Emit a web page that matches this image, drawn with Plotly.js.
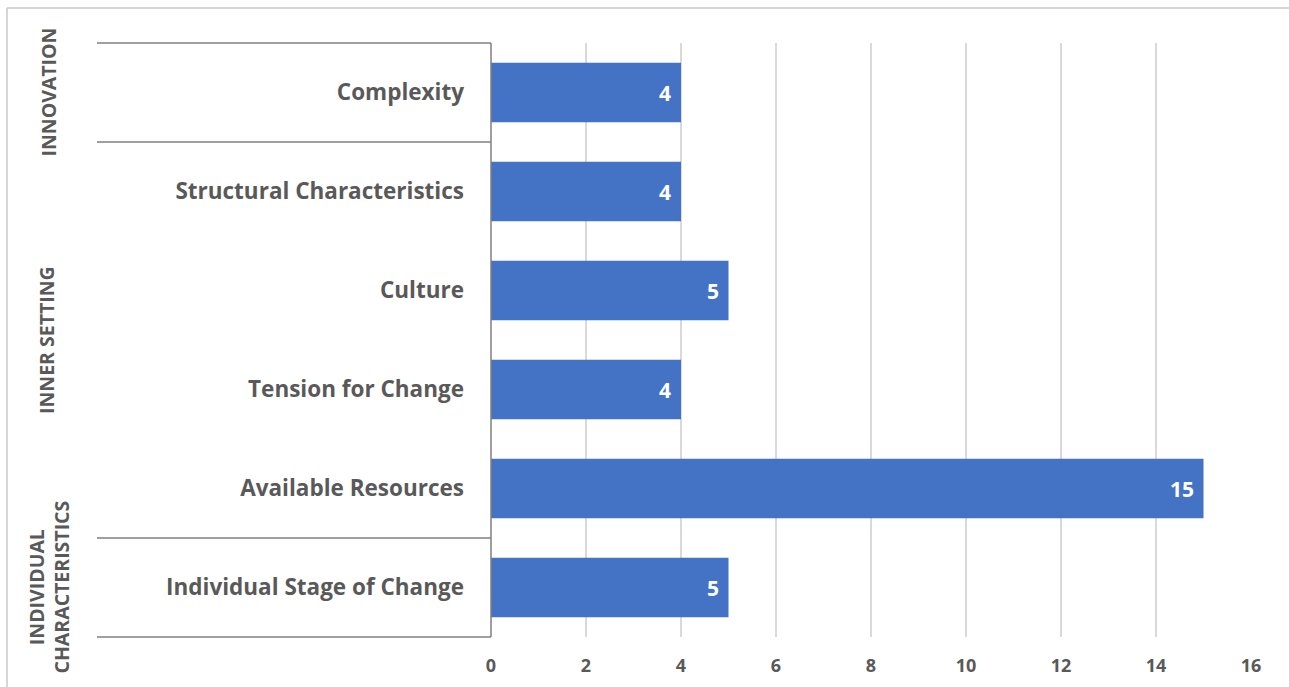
<!DOCTYPE html>
<html>
<head>
<meta charset="utf-8">
<script src="https://cdn.plot.ly/plotly-3.0.1.min.js"></script>
<style>html,body{margin:0;padding:0;background:#fff;}#chart{width:1289px;height:687px;}</style>
</head>
<body>
<div id="chart"></div>
<script>
const categories = ["Complexity", "Structural Characteristics", "Culture", "Tension for Change", "Available Resources", "Individual Stage of Change"];
const values = [4, 4, 5, 4, 15, 5];
const groups = ["INNOVATION", "INNER SETTING", "INDIVIDUAL<br>CHARACTERISTICS"];
const groupSizes = [1, 4, 1];
const xTicks = [0, 2, 4, 6, 8, 10, 12, 14, 16];

const W = 1289, H = 687;
const L = 491, R = 38, T = 43, B = 50;
const plotW = W - L - R, plotH = H - T - B;
const FONT = "Open Sans, sans-serif";
const GRAY = "#595959";
const LINE = "#7f7f7f";

const trace = {
  type: "bar",
  orientation: "h",
  x: values,
  y: categories,
  marker: {color: "#4472C4"},
  width: 0.6,
  hoverinfo: "x+y"
};

const n = categories.length;
const shapes = [];
const annotations = [];
const leftX = (97 - L) / plotW;
let acc = 0;
const bounds = [0];
groupSizes.forEach(s => { acc += s; bounds.push(acc); });
bounds.forEach(b => {
  shapes.push({type: "line", xref: "paper", yref: "paper", x0: leftX, x1: 0, y0: 1 - b / n, y1: 1 - b / n, line: {color: LINE, width: 1.5}});
});
shapes.push({type: "line", xref: "paper", yref: "paper", x0: 0, x1: 0, y0: 0, y1: 1, line: {color: LINE, width: 1.5}});
shapes.push({type: "line", xref: "paper", yref: "paper", x0: (7 - L) / plotW, x1: (W - L) / plotW, y0: 1 + (T - 8) / plotH, y1: 1 + (T - 8) / plotH, line: {color: "#c8c8c8", width: 1.5}});
shapes.push({type: "line", xref: "paper", yref: "paper", x0: (7 - L) / plotW, x1: (7 - L) / plotW, y0: 1 + (T - 8) / plotH, y1: -B / plotH, line: {color: "#c8c8c8", width: 1.5}});

// value labels inside bar ends
values.forEach((v, i) => {
  annotations.push({
    xref: "x", yref: "y", x: v, y: categories[i],
    text: String(v), showarrow: false, xanchor: "right", yanchor: "middle", xshift: -8,
    font: {family: FONT, size: 21, color: "#ffffff", weight: 700}
  });
});

const groupX = [48, 46, 48];
groups.forEach((g, i) => {
  const mid = (bounds[i] + bounds[i + 1]) / 2;
  annotations.push({
    xref: "paper", yref: "paper",
    x: (groupX[i] - L) / plotW, y: 1 - mid / n,
    text: g, showarrow: false, textangle: -90,
    font: {family: FONT, size: 19.5, color: GRAY, weight: 700},
    xanchor: "center", yanchor: "middle", align: "center"
  });
});

const layout = {
  width: W, height: H,
  margin: {l: L, r: R, t: T, b: B, pad: 0},
  paper_bgcolor: "#ffffff",
  plot_bgcolor: "#ffffff",
  showlegend: false,
  xaxis: {
    range: [0, 16],
    tickvals: xTicks,
    ticktext: xTicks.map(String),
    showgrid: true, gridcolor: "#d9d9d9", gridwidth: 1.5,
    zeroline: false, showline: false, ticks: "",
    ticklabelstandoff: 16,
    tickfont: {family: FONT, size: 18, color: GRAY, weight: 700}
  },
  yaxis: {
    type: "category",
    categoryorder: "array",
    categoryarray: categories,
    autorange: "reversed",
    showgrid: false, zeroline: false, showline: false, ticks: "",
    ticklabelstandoff: 26,
    tickfont: {family: FONT, size: 22.5, color: GRAY, weight: 700}
  },
  shapes: shapes,
  annotations: annotations
};

Plotly.newPlot("chart", [trace], layout, {displayModeBar: false, staticPlot: true});
</script>
</body>
</html>
